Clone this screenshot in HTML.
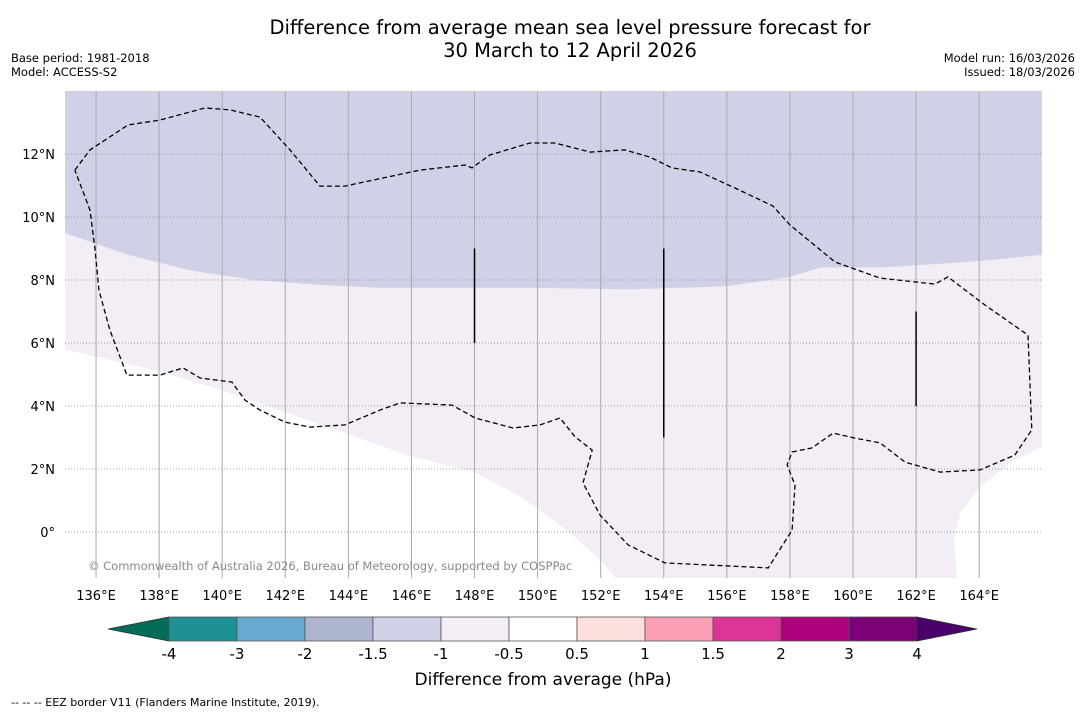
<!DOCTYPE html>
<html><head><meta charset="utf-8"><style>
body{margin:0;background:#fff;font-family:"DejaVu Sans","Liberation Sans",sans-serif}
svg{display:block}
</style></head><body>
<svg id="c" width="1085" height="713" xmlns="http://www.w3.org/2000/svg">
<text x="570" y="34" font-size="19.5" text-anchor="middle">Difference from average mean sea level pressure forecast for</text>
<text x="570" y="57" font-size="19.5" text-anchor="middle">30 March to 12 April 2026</text>
<text x="11" y="62" font-size="11.5">Base period: 1981-2018</text>
<text x="11" y="76" font-size="11.5">Model: ACCESS-S2</text>
<text x="1075" y="62" font-size="11.5" text-anchor="end">Model run: 16/03/2026</text>
<text x="1075" y="76" font-size="11.5" text-anchor="end">Issued: 18/03/2026</text>
<defs><clipPath id="mc"><rect x="65" y="91" width="977" height="487"/></clipPath></defs>
<g id="map" clip-path="url(#mc)"></g>
<g id="axes"></g>
<g id="cbar"></g>
<text x="543" y="685" font-size="17" text-anchor="middle">Difference from average (hPa)</text>
<text x="11" y="706" font-size="11">--  --  -- EEZ border V11 (Flanders Marine Institute, 2019).</text>
</svg>
<script>
const lonTicks=[136,138,140,142,144,146,148,150,152,154,156,158,160,162,164];
const latTicks=[0,2,4,6,8,10,12];
const lavBoundary=[[135,9.5],[137,8.8],[139,8.3],[141,8.0],[143,7.85],[145,7.75],[150,7.75],[153,7.7],[156,7.8],[158,8.1],[159,8.4],[161,8.4],[164,8.6],[166,8.8]];
const whiteBoundaryW=[[135,5.8],[138,5.1],[140,4.5],[142,3.8],[144,3.1],[146,2.4],[148,1.9],[149.5,1.1],[151,0],[152,-0.9],[152.5,-1.5]];
const whiteBoundaryE=[[166,2.7],[165,2.2],[164,1.4],[163.4,0.6],[163.2,-0.3],[163.3,-1.5]];
const eez=[[135.33,11.49],[135.81,12.13],[137.01,12.92],[138.03,13.08],[139.45,13.46],[140.25,13.4],[141.2,13.17],[142.15,12.13],[143.1,10.98],[143.89,10.98],[146.27,11.49],[147.7,11.65],[147.92,11.56],[148.49,11.97],[149.76,12.35],[150.55,12.35],[151.66,12.06],[152.77,12.13],[153.56,11.9],[154.26,11.56],[155.15,11.43],[156.26,10.92],[157.46,10.35],[158,9.75],[159.43,8.57],[160.86,8.06],[162.6,7.87],[163.01,8.1],[164.18,7.21],[165.55,6.25],[165.67,3.24],[165.13,2.44],[164.03,1.97],[162.76,1.9],[161.65,2.22],[160.86,2.83],[160.06,2.98],[159.37,3.14],[158.7,2.67],[158.07,2.54],[157.91,2.13],[158.16,1.49],[158.07,0.06],[157.31,-1.14],[154.04,-0.98],[152.87,-0.41],[151.98,0.54],[151.44,1.56],[151.73,2.6],[151.19,3.02],[150.71,3.62],[150.08,3.4],[149.22,3.3],[148.02,3.62],[147.29,4.03],[145.64,4.1],[145,3.87],[143.89,3.4],[142.78,3.33],[141.99,3.49],[141.2,3.87],[140.72,4.19],[140.31,4.76],[139.3,4.89],[138.76,5.21],[138.03,4.98],[136.98,4.98],[136.44,6.41],[136.09,7.68],[135.97,8.95],[135.81,10.22],[135.33,11.49]];
const eezSegs=[[148,9,6],[154,9,3],[162,7,4]];
const cbLevels=["-4","-3","-2","-1.5","-1","-0.5","0.5","1","1.5","2","3","4"];
const cbColors=["#1f9096","#67a9cf","#adb5cf","#d0d1e6","#f3edf6","#ffffff","#fde0dd","#fa9fb5","#dd3497","#ae017e","#7a0177"];
const cbUnder="#046c59", cbOver="#49006a";

const NS="http://www.w3.org/2000/svg";
const X=lon=>64.5+(lon-135)*31.54, Y=lat=>91+(14-lat)*31.5;
function mk(p,t,a){const e=document.createElementNS(NS,t);for(const k in a)e.setAttribute(k,a[k]);p.appendChild(e);return e;}
const map=document.getElementById('map'),axes=document.getElementById('axes'),cb=document.getElementById('cbar');
const pts=a=>a.map(p=>X(p[0]).toFixed(1)+','+Y(p[1]).toFixed(1)).join(' ');
let e;
e=mk(map,'rect',{x:65,y:91,width:977,height:487,fill:'#f3edf6'});


e=mk(map,'polygon',{points:pts([[135,15]].concat(lavBoundary,[[166,15]])),fill:'#d0d1e6'});


e=mk(map,'polygon',{points:pts([[135,-2]].concat(whiteBoundaryW,[[152.5,-2]])),fill:'#ffffff'});


e=mk(map,'polygon',{points:pts([[167,-2]].concat(whiteBoundaryE,[[167,-2]])),fill:'#ffffff'});


lonTicks.forEach(l=>{
  e=mk(map,'line',{x1:X(l),x2:X(l),y1:91,y2:578,stroke:'#aaa','stroke-width':1});
  
  
  e=mk(axes,'text',{x:X(l),y:600,'font-size':13,'text-anchor':'middle'});e.textContent=l+'°E';
  
  
});
latTicks.forEach(l=>{
  e=mk(map,'line',{x1:65,x2:1042,y1:Y(l),y2:Y(l),stroke:'#888','stroke-width':0.8,'stroke-dasharray':'1,2'});
  
  
  e=mk(axes,'text',{x:55,y:Y(l)+5,'font-size':13,'text-anchor':'end'});e.textContent=l===0?'0°':l+'°N';
  
  
});
e=mk(map,'polyline',{points:pts(eez),fill:'none',stroke:'#000','stroke-width':1.3,'stroke-dasharray':'5,3'});


eezSegs.forEach(s=>{
  e=mk(map,'line',{x1:X(s[0]),x2:X(s[0]),y1:Y(s[1]),y2:Y(s[2]),stroke:'#000','stroke-width':1.5});
  
  
});
e=mk(map,'text',{x:88,y:570,'font-size':11.5,fill:'#888'});e.textContent='© Commonwealth of Australia 2026, Bureau of Meteorology, supported by COSPPac';


const cx0=169,cw=68,cy=617,ch=24;
e=mk(cb,'polygon',{points:`108,629 ${cx0},${cy} ${cx0},${cy+ch}`,fill:cbUnder,stroke:'#333','stroke-width':0.8});


cbColors.forEach((c,i)=>{
  e=mk(cb,'rect',{x:cx0+i*cw,y:cy,width:cw,height:ch,fill:c,stroke:'#555','stroke-width':0.8});
  
  
});
const xe=cx0+cbColors.length*cw;
e=mk(cb,'polygon',{points:`${xe},${cy} ${xe},${cy+ch} 977,629`,fill:cbOver,stroke:'#333','stroke-width':0.8});


cbLevels.forEach((t,i)=>{
  e=mk(cb,'text',{x:cx0+i*cw,y:659,'font-size':15,'text-anchor':'middle'});e.textContent=t;
  
  
});
</script>
</body></html>
